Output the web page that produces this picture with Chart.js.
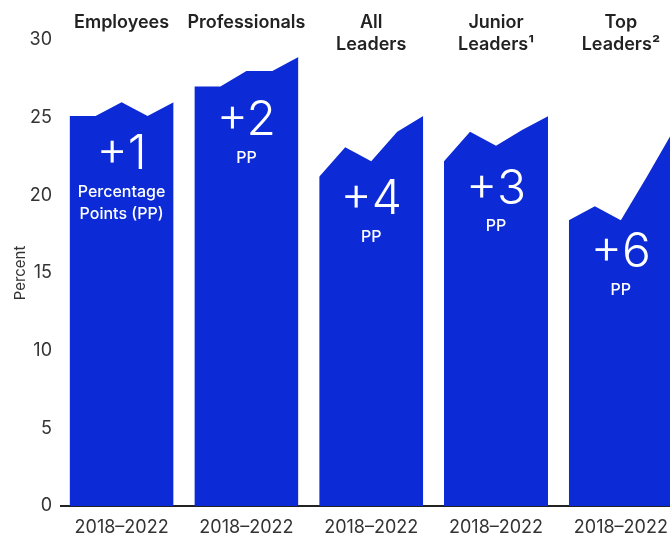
<!DOCTYPE html>
<html>
<head>
<meta charset="utf-8">
<script src="https://cdn.jsdelivr.net/npm/chart.js@4"></script>
<style>
  html, body { margin: 0; padding: 0; background: #fff; }
</style>
</head>
<body>
<canvas id="myChart" width="670" height="533"></canvas>
<script>
// chart data
const groups = [['Employees'], ['Professionals'], ['All', 'Leaders'], ['Junior', 'Leaders¹'], ['Top', 'Leaders²']];
const periodLabel = '2018–2022';
const years = [2018, 2019, 2020, 2021, 2022];
const employees = [25.1, 25.1, 26.0, 25.1, 26.0];
const professionals = [27.0, 27.0, 28.0, 28.0, 28.9];
const allLeaders = [21.2, 23.1, 22.2, 24.1, 25.1];
const juniorLeaders = [22.2, 24.1, 23.2, 24.2, 25.1];
const topLeaders = [18.4, 19.3, 18.4, 21.2, 24.1];
const changes = ['+1', '+2', '+4', '+3', '+6'];
const changeNotes = [['Percentage', 'Points (PP)'], ['PP'], ['PP'], ['PP'], ['PP']];
const yTicks = [0, 5, 10, 15, 20, 25, 30];

// layout helpers
const GROUP_STEP = 4.8;           // distance between groups, in years
const notePos = [22.6, 24.8, 19.7, 20.4, 16.3]; // where the "+N" sits (axis units)
const BLUE = '#0c2bd6';
const FONT = 'Inter, "Noto Sans", sans-serif';

Chart.defaults.font.family = FONT;

const series = [employees, professionals, allLeaders, juniorLeaders, topLeaders];
const groupCenter = i => i * GROUP_STEP + (years.length - 1) / 2;

const datasets = series.map((values, i) => ({
  label: groups[i].join(' '),
  data: values.map((v, j) => ({ x: i * GROUP_STEP + j, y: v })),
  fill: 'origin',
  backgroundColor: BLUE,
  borderColor: BLUE,
  borderWidth: 0,
  pointRadius: 0,
  tension: 0
}));

// group titles on top and the change labels inside the areas
const labelsPlugin = {
  id: 'groupLabels',
  afterDatasetsDraw(chart) {
    const ctx = chart.ctx;
    const x = chart.scales.x, y = chart.scales.y;
    ctx.save();
    ctx.textAlign = 'center';
    ctx.textBaseline = 'middle';

    groups.forEach((lines, i) => {
      const cx = x.getPixelForValue(groupCenter(i));
      ctx.fillStyle = '#222';
      ctx.font = '600 18px ' + FONT;
      lines.forEach((t, k) => ctx.fillText(t, cx, 23 + k * 22));

      const cy = y.getPixelForValue(notePos[i]);
      ctx.fillStyle = '#fff';
      ctx.font = '300 48px ' + FONT;
      ctx.fillText(changes[i], cx, cy);
      ctx.font = '500 16px ' + FONT;
      changeNotes[i].forEach((t, k) => ctx.fillText(t, cx, cy + 37 + k * 22));
    });
    ctx.restore();
  }
};

new Chart(document.getElementById('myChart'), {
  type: 'line',
  data: { datasets },
  options: {
    responsive: false,
    animation: false,
    layout: { padding: { top: 40, right: 0, left: 0, bottom: 0 } },
    plugins: { legend: { display: false }, tooltip: { enabled: false } },
    scales: {
      x: {
        type: 'linear',
        min: -0.33,
        max: 23.09,
        grid: { display: false, drawTicks: false },
        border: { display: true, color: '#222', width: 2 },
        afterBuildTicks: s => { s.ticks = groups.map((g, i) => ({ value: groupCenter(i) })); },
        afterFit: s => { s.height = 27; s.paddingLeft = 0; s.paddingRight = 0; },
        ticks: {
          autoSkip: false,
          maxRotation: 0,
          padding: 11,
          color: '#333',
          font: { size: 18 },
          callback: () => periodLabel
        }
      },
      y: {
        min: 0,
        max: 30,
        grid: { display: false, drawTicks: false },
        border: { display: false },
        afterBuildTicks: s => { s.ticks = yTicks.map(v => ({ value: v })); },
        afterFit: s => { s.width = 61; },
        title: { display: true, text: 'Percent', color: '#333', font: { size: 15 }, padding: { top: 11, bottom: 0 } },
        ticks: { padding: 9, color: '#333', font: { size: 18 } }
      }
    }
  },
  plugins: [labelsPlugin]
});
</script>
</body>
</html>
